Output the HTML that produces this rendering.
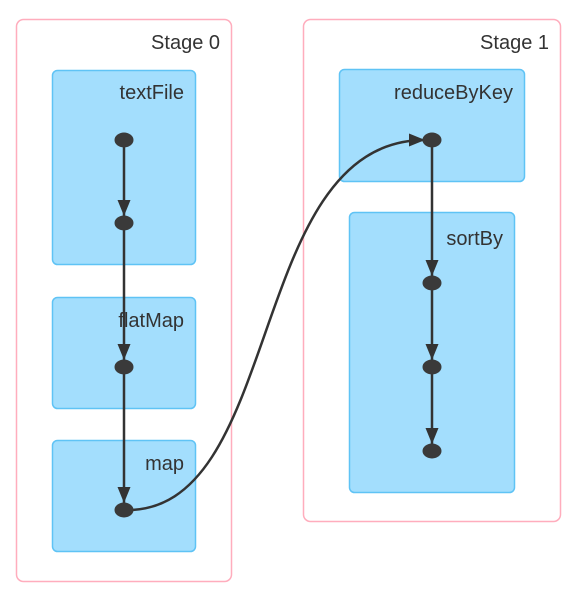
<!DOCTYPE html>
<html><head><meta charset="utf-8"><style>
html,body{margin:0;padding:0;background:#fff;width:585px;height:594px;overflow:hidden}
svg{display:block}
text{font-family:"Liberation Sans",sans-serif;font-size:20px;fill:#333}
</style></head><body>
<svg width="585" height="594" viewBox="0 0 585 594">
<defs>
<marker id="b" markerWidth="16" markerHeight="13" refX="16" refY="6.5" orient="auto" markerUnits="userSpaceOnUse" viewBox="0 0 16 13">
<path d="M0,0 L16,6.5 L0,13 z" fill="#333"/></marker>
</defs>
<rect x="16.5" y="19.5" width="215" height="562" rx="7" fill="#fff" stroke="#ffadbd" stroke-width="1.5"/>
<rect x="303.5" y="19.5" width="257" height="502" rx="7" fill="#fff" stroke="#ffadbd" stroke-width="1.5"/>
<text x="220" y="49" text-anchor="end">Stage 0</text>
<text x="549" y="49" text-anchor="end">Stage 1</text>
<g fill="#a3defd" stroke="#5fc3f5" stroke-width="1.5">
<rect x="52.5" y="70.5" width="143" height="194" rx="5"/>
<rect x="52.5" y="297.5" width="143" height="111" rx="5"/>
<rect x="52.5" y="440.5" width="143" height="111" rx="5"/>
<rect x="339.5" y="69.5" width="185" height="112" rx="5"/>
<rect x="349.5" y="212.5" width="165" height="280" rx="5"/>
</g>
<text x="184" y="99" text-anchor="end">textFile</text>
<text x="184" y="327" text-anchor="end">flatMap</text>
<text x="184" y="470" text-anchor="end">map</text>
<text x="513" y="99" text-anchor="end">reduceByKey</text>
<text x="503" y="245" text-anchor="end">sortBy</text>
<g stroke="#333" stroke-width="2.5" fill="none">
<line x1="124" y1="140" x2="124" y2="216" marker-end="url(#b)"/>
<line x1="124" y1="223" x2="124" y2="360" marker-end="url(#b)"/>
<line x1="124" y1="367" x2="124" y2="503" marker-end="url(#b)"/>
<line x1="432" y1="140" x2="432" y2="276" marker-end="url(#b)"/>
<line x1="432" y1="283" x2="432" y2="360" marker-end="url(#b)"/>
<line x1="432" y1="367" x2="432" y2="444" marker-end="url(#b)"/>
<path d="M124,510 C285,515 245,140 425,140" marker-end="url(#b)"/>
</g>
<g fill="#3a3a3a">
<ellipse cx="124" cy="140" rx="9.5" ry="7.5"/>
<ellipse cx="124" cy="223" rx="9.5" ry="7.5"/>
<ellipse cx="124" cy="367" rx="9.5" ry="7.5"/>
<ellipse cx="124" cy="510" rx="9.5" ry="7.5"/>
<ellipse cx="432" cy="140" rx="9.5" ry="7.5"/>
<ellipse cx="432" cy="283" rx="9.5" ry="7.5"/>
<ellipse cx="432" cy="367" rx="9.5" ry="7.5"/>
<ellipse cx="432" cy="451" rx="9.5" ry="7.5"/>
</g>
</svg>
</body></html>
